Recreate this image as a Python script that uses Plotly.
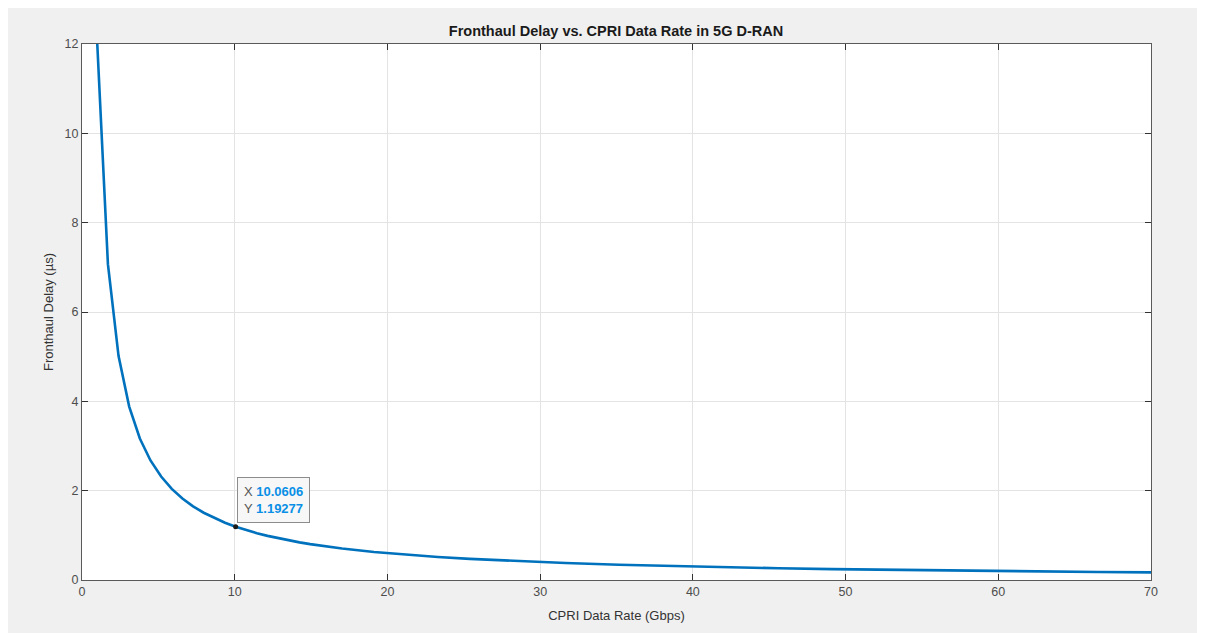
import plotly.graph_objects as go

# CPRI data rate (Gbps) and fronthaul delay (µs)
rate_gbps = [1.000, 1.697, 2.394, 3.091, 3.788, 4.485, 5.182, 5.879, 6.576, 7.273,
             7.970, 8.667, 9.364, 10.061, 10.758, 11.455, 12.152, 12.848, 13.545,
             14.242, 14.939, 17.030, 19.121, 21.212, 23.303, 25.394, 27.485,
             29.576, 31.667, 35.152, 38.636, 42.121, 45.606, 49.091, 52.576,
             56.061, 59.545, 63.030, 66.515, 70.000]
delay_us = [12.000, 7.071, 5.013, 3.882, 3.168, 2.676, 2.316, 2.041, 1.825, 1.650,
            1.506, 1.385, 1.282, 1.193, 1.115, 1.048, 0.988, 0.934, 0.886,
            0.843, 0.803, 0.705, 0.628, 0.566, 0.515, 0.473, 0.437,
            0.406, 0.379, 0.341, 0.311, 0.285, 0.263, 0.244, 0.228,
            0.214, 0.2015, 0.190, 0.180, 0.1714]

tip_x = 10.0606
tip_y = 1.19277

x_ticks = [0, 10, 20, 30, 40, 50, 60, 70]
y_ticks = [0, 2, 4, 6, 8, 10, 12]

W, H = 1205, 633
# plot area in figure coordinates (page is offset by 8px body margin)
L, R, T, B = 74, 1143, 36, 572

FONT = "Liberation Sans, Arial, Helvetica, sans-serif"
TXT = "#4d4d4d"
AX = "#5a5a5a"

fig = go.Figure()
fig.add_trace(go.Scatter(x=rate_gbps, y=delay_us, mode="lines",
                         line=dict(color="#0072BD", width=2.6),
                         hoverinfo="skip", showlegend=False))
fig.add_trace(go.Scatter(x=[tip_x], y=[tip_y], mode="markers",
                         marker=dict(color="#1a1a1a", size=5),
                         hoverinfo="skip", showlegend=False))

fig.add_annotation(x=tip_x, y=tip_y, xref="x", yref="y",
                   text=("X <b><span style='color:#0a8fe6'>%s</span></b><br>"
                         "Y <b><span style='color:#0a8fe6'>%s</span></b>") % (tip_x, tip_y),
                   showarrow=False, xanchor="left", yanchor="bottom",
                   xshift=1, yshift=4, align="left",
                   font=dict(family=FONT, size=13, color="#555555"),
                   bgcolor="#f7f7f7", bordercolor="#8c8c8c", borderwidth=1,
                   borderpad=6)

axis_common = dict(showgrid=True, gridcolor="#e3e3e3", gridwidth=1,
                   showline=True, linecolor=AX, linewidth=1, mirror="ticks",
                   ticks="inside", ticklen=6, tickcolor="#333333", tickwidth=1,
                   zeroline=False,
                   tickfont=dict(family=FONT, size=12.5, color=TXT))

fig.update_xaxes(range=[0, 70], tickvals=x_ticks, ticktext=[str(v) for v in x_ticks],
                 title=dict(text="CPRI Data Rate (Gbps)", standoff=12,
                            font=dict(family=FONT, size=13, color="#333333")),
                 **axis_common)
fig.update_yaxes(range=[0, 12], tickvals=y_ticks, ticktext=[str(v) for v in y_ticks],
                 title=dict(text="Fronthaul Delay (µs)", standoff=8,
                            font=dict(family=FONT, size=13, color="#333333")),
                 **axis_common)

pw, ph = R - L, B - T
fig.update_layout(
    width=W, height=H,
    margin=dict(l=L, r=W - R, t=T, b=H - B, pad=0),
    paper_bgcolor="#f0f0f0", plot_bgcolor="white",
    title=dict(text="<b>Fronthaul Delay vs. CPRI Data Rate in 5G D-RAN</b>",
               x=(608 - L) / pw, xref="paper", xanchor="center",
               y=1 - 23 / H, yref="container", yanchor="middle",
               font=dict(family=FONT, size=14.5, color="#1a1a1a")),
)

fig.write_html("out.html")
